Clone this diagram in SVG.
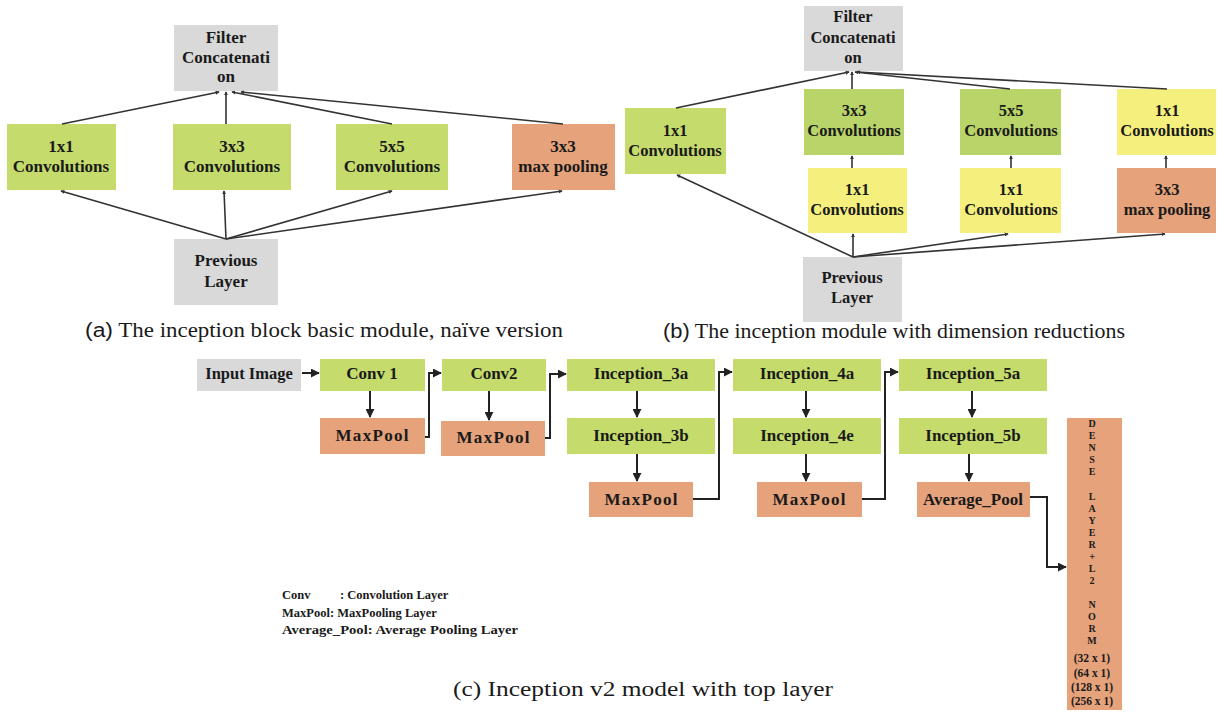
<svg xmlns="http://www.w3.org/2000/svg" width="1225" height="712" viewBox="0 0 1225 712">
<defs>
<style>
.bx{stroke:none}
.g{fill:#C5DC6C}
.g2{fill:#B9D468}
.y{fill:#F5F07E}
.o{fill:#E5A27B}
.gr{fill:#D9D9D9}
.t{font-family:"Liberation Serif","Times New Roman",serif;font-weight:bold;fill:#1a1a1a;text-anchor:middle}
.t17{font-size:17px}
.t16{font-size:16.5px}
.cap{font-family:"Liberation Serif","Times New Roman",serif;font-size:20px;fill:#1a1a1a}
.capl{font-family:"Liberation Sans",Arial,sans-serif}
.ln{fill:none;stroke:#333;stroke-width:1.6}
.ln2{fill:none;stroke:#222;stroke-width:2}
.leg{font-family:"Liberation Serif","Times New Roman",serif;font-weight:bold;font-size:12.5px;fill:#1a1a1a}
.dl{font-family:"Liberation Serif","Times New Roman",serif;font-weight:bold;font-size:10px;fill:#1a1a1a;text-anchor:middle}
.dn{font-family:"Liberation Serif","Times New Roman",serif;font-weight:bold;font-size:11.5px;fill:#1a1a1a;text-anchor:middle}
</style>
<marker id="sa" viewBox="0 0 6 6" refX="5" refY="3" markerWidth="4" markerHeight="4" orient="auto" markerUnits="userSpaceOnUse"><path d="M0,0 L6,3 L0,6 z" fill="#333"/></marker>
<marker id="ba" viewBox="0 0 10 10" refX="9" refY="5" markerWidth="9" markerHeight="9" orient="auto" markerUnits="userSpaceOnUse"><path d="M0,0 L10,5 L0,10 z" fill="#222"/></marker>
</defs>
<rect width="1225" height="712" fill="#fff"/>

<!-- Part (a) -->
<g id="a-filter"><rect class="bx gr" x="174" y="25" width="104" height="66"/>
<text class="t t17" x="226" y="43">Filter</text><text class="t t17" x="226" y="63">Concatenati</text><text class="t t17" x="226" y="82">on</text></g>
<g id="a-1x1"><rect class="bx g" x="7" y="124" width="109" height="66"/>
<text class="t t17" x="61" y="152">1x1</text><text class="t t17" x="61" y="172">Convolutions</text></g>
<g id="a-3x3"><rect class="bx g" x="173" y="124" width="118" height="66"/>
<text class="t t17" x="232" y="152">3x3</text><text class="t t17" x="232" y="172">Convolutions</text></g>
<g id="a-5x5"><rect class="bx g" x="336" y="124" width="112" height="66"/>
<text class="t t17" x="392" y="152">5x5</text><text class="t t17" x="392" y="172">Convolutions</text></g>
<g id="a-pool"><rect class="bx o" x="512" y="124" width="103" height="66"/>
<text class="t t17" x="563" y="152">3x3</text><text class="t t17" x="563" y="172">max pooling</text></g>
<g id="a-prev"><rect class="bx gr" x="174" y="239" width="104" height="66"/>
<text class="t t17" x="226" y="266">Previous</text><text class="t t17" x="226" y="287">Layer</text></g>

<!-- Part (b) -->
<g id="b-filter"><rect class="bx gr" x="804" y="6" width="99" height="65"/>
<text class="t t16" x="853" y="22">Filter</text><text class="t t16" x="853" y="43">Concatenati</text><text class="t t16" x="853" y="63">on</text></g>
<g id="b-1x1"><rect class="bx g" x="625" y="108" width="101" height="66"/>
<text class="t t16" x="675" y="136">1x1</text><text class="t t16" x="675" y="156">Convolutions</text></g>
<g id="b-3x3"><rect class="bx g2" x="804" y="89" width="100" height="66"/>
<text class="t t16" x="854" y="116">3x3</text><text class="t t16" x="854" y="136">Convolutions</text></g>
<g id="b-1x1a"><rect class="bx y" x="808" y="168" width="99" height="65"/>
<text class="t t16" x="857" y="195">1x1</text><text class="t t16" x="857" y="215">Convolutions</text></g>
<g id="b-5x5"><rect class="bx g2" x="960" y="89" width="101" height="66"/>
<text class="t t16" x="1011" y="116">5x5</text><text class="t t16" x="1011" y="136">Convolutions</text></g>
<g id="b-1x1b"><rect class="bx y" x="960" y="168" width="101" height="65"/>
<text class="t t16" x="1011" y="195">1x1</text><text class="t t16" x="1011" y="215">Convolutions</text></g>
<g id="b-1x1c"><rect class="bx y" x="1117" y="89" width="99" height="66"/>
<text class="t t16" x="1167" y="116">1x1</text><text class="t t16" x="1167" y="136">Convolutions</text></g>
<g id="b-pool"><rect class="bx o" x="1117" y="168" width="99" height="65"/>
<text class="t t16" x="1167" y="195">3x3</text><text class="t t16" x="1167" y="215">max pooling</text></g>
<g id="b-prev"><rect class="bx gr" x="803" y="257" width="99" height="65"/>
<text class="t t16" x="852" y="283">Previous</text><text class="t t16" x="852" y="303">Layer</text></g>

<!-- Part (c) -->
<g id="c-input"><rect class="bx gr" x="197" y="359" width="104" height="32"/><text class="t t16" x="249" y="379">Input Image</text></g>
<g id="c-conv1"><rect class="bx g" x="320" y="359" width="105" height="32"/><text class="t t17" x="372" y="379">Conv 1</text></g>
<g id="c-mp1"><rect class="bx o" x="320" y="418" width="105" height="36"/><text class="t t17" x="372" y="441" textLength="73" lengthAdjust="spacing">MaxPool</text></g>
<g id="c-conv2"><rect class="bx g" x="442" y="359" width="104" height="32"/><text class="t t17" x="494" y="379">Conv2</text></g>
<g id="c-mp2"><rect class="bx o" x="441" y="421" width="104" height="35"/><text class="t t17" x="493" y="443" textLength="73" lengthAdjust="spacing">MaxPool</text></g>
<g id="c-i3a"><rect class="bx g" x="567" y="359" width="148" height="32"/><text class="t t17" x="641" y="379">Inception_3a</text></g>
<g id="c-i3b"><rect class="bx g" x="567" y="418" width="148" height="36"/><text class="t t17" x="641" y="441">Inception_3b</text></g>
<g id="c-mp3"><rect class="bx o" x="589" y="482" width="104" height="35"/><text class="t t17" x="641" y="505" textLength="73" lengthAdjust="spacing">MaxPool</text></g>
<g id="c-i4a"><rect class="bx g" x="733" y="359" width="148" height="32"/><text class="t t17" x="807" y="379">Inception_4a</text></g>
<g id="c-i4e"><rect class="bx g" x="733" y="418" width="148" height="36"/><text class="t t17" x="807" y="441">Inception_4e</text></g>
<g id="c-mp4"><rect class="bx o" x="757" y="482" width="105" height="35"/><text class="t t17" x="809" y="505" textLength="73" lengthAdjust="spacing">MaxPool</text></g>
<g id="c-i5a"><rect class="bx g" x="899" y="359" width="148" height="32"/><text class="t t17" x="973" y="379">Inception_5a</text></g>
<g id="c-i5b"><rect class="bx g" x="899" y="418" width="148" height="36"/><text class="t t17" x="973" y="441">Inception_5b</text></g>
<g id="c-avg"><rect class="bx o" x="917" y="482" width="113" height="35"/><text class="t t17" x="973" y="505">Average_Pool</text></g>
<g id="c-dense"><rect class="bx o" x="1067" y="418" width="55" height="292"/>
<text class="dl" x="1092" y="427">D</text><text class="dl" x="1092" y="439">E</text><text class="dl" x="1092" y="451">N</text><text class="dl" x="1092" y="463">S</text><text class="dl" x="1092" y="475">E</text>
<text class="dl" x="1092" y="500">L</text><text class="dl" x="1092" y="512">A</text><text class="dl" x="1092" y="524">Y</text><text class="dl" x="1092" y="536">E</text><text class="dl" x="1092" y="548">R</text><text class="dl" x="1092" y="560">+</text><text class="dl" x="1092" y="572">L</text><text class="dl" x="1092" y="584">2</text>
<text class="dl" x="1092" y="608">N</text><text class="dl" x="1092" y="620">O</text><text class="dl" x="1092" y="632">R</text><text class="dl" x="1092" y="644">M</text>
<text class="dn" x="1092" y="662">(32 x 1)</text><text class="dn" x="1092" y="677">(64 x 1)</text><text class="dn" x="1092" y="691">(128 x 1)</text><text class="dn" x="1092" y="705">(256 x 1)</text></g>

<!-- connectors -->
<g id="connectors">
<!-- (a) -->
<path class="ln" marker-end="url(#sa)" d="M226,239 L61,191"/>
<path class="ln" marker-end="url(#sa)" d="M226,239 L224,191"/>
<path class="ln" marker-end="url(#sa)" d="M226,239 L392,191"/>
<path class="ln" marker-end="url(#sa)" d="M226,239 L562,191"/>
<path class="ln" marker-end="url(#sa)" d="M62,124 L219,92"/>
<path class="ln" marker-end="url(#sa)" d="M226,124 L226,92"/>
<path class="ln" marker-end="url(#sa)" d="M392,124 L232,92"/>
<path class="ln" marker-end="url(#sa)" d="M563,124 L241,92"/>
<!-- (b) -->
<path class="ln" marker-end="url(#sa)" d="M853,257 L677,175"/>
<path class="ln" marker-end="url(#sa)" d="M853,257 L853,234"/>
<path class="ln" marker-end="url(#sa)" d="M853,257 L1008,234"/>
<path class="ln" marker-end="url(#sa)" d="M853,257 L1165,234"/>
<path class="ln" marker-end="url(#sa)" d="M852,168 L852,156"/>
<path class="ln" marker-end="url(#sa)" d="M1011,168 L1011,156"/>
<path class="ln" marker-end="url(#sa)" d="M1166,168 L1166,156"/>
<path class="ln" marker-end="url(#sa)" d="M676,108 L849,72"/>
<path class="ln" marker-end="url(#sa)" d="M852,89 L852,72"/>
<path class="ln" marker-end="url(#sa)" d="M1010,89 L855,72"/>
<path class="ln" marker-end="url(#sa)" d="M1167,89 L857,72"/>
<!-- (c) -->
<path class="ln2" marker-end="url(#ba)" d="M302,373 L319,373"/>
<path class="ln2" marker-end="url(#ba)" d="M370,391 L370,417"/>
<path class="ln2" marker-end="url(#ba)" d="M425,437 L429,437 L429,373 L441,373"/>
<path class="ln2" marker-end="url(#ba)" d="M489,391 L489,420"/>
<path class="ln2" marker-end="url(#ba)" d="M545,438 L550,438 L550,374 L566,374"/>
<path class="ln2" marker-end="url(#ba)" d="M637,391 L637,417"/>
<path class="ln2" marker-end="url(#ba)" d="M637,454 L637,481"/>
<path class="ln2" marker-end="url(#ba)" d="M693,499 L719,499 L719,372 L732,372"/>
<path class="ln2" marker-end="url(#ba)" d="M806,391 L806,417"/>
<path class="ln2" marker-end="url(#ba)" d="M806,454 L806,481"/>
<path class="ln2" marker-end="url(#ba)" d="M862,499 L885,499 L885,372 L898,372"/>
<path class="ln2" marker-end="url(#ba)" d="M972,391 L972,417"/>
<path class="ln2" marker-end="url(#ba)" d="M969,454 L969,481"/>
<path class="ln2" marker-end="url(#ba)" d="M1030,497 L1047,497 L1047,567 L1066,567"/>
</g>

<!-- legend and captions -->
<text class="leg" x="282" y="599">Conv</text><text class="leg" x="340" y="599">: Convolution Layer</text>
<text class="leg" x="282" y="617">MaxPool: MaxPooling Layer</text>
<text class="leg" x="282" y="634" textLength="236" lengthAdjust="spacingAndGlyphs">Average_Pool: Average Pooling Layer</text>
<text class="cap" x="85" y="337" textLength="478" lengthAdjust="spacingAndGlyphs"><tspan class="capl">(a)</tspan> The inception block basic module, naïve version</text>
<text class="cap" x="663" y="338" textLength="462" lengthAdjust="spacingAndGlyphs"><tspan class="capl">(b)</tspan> The inception module with dimension reductions</text>
<text class="cap" x="453" y="696" textLength="380" lengthAdjust="spacingAndGlyphs">(c) Inception v2 model with top layer</text>
</svg>
